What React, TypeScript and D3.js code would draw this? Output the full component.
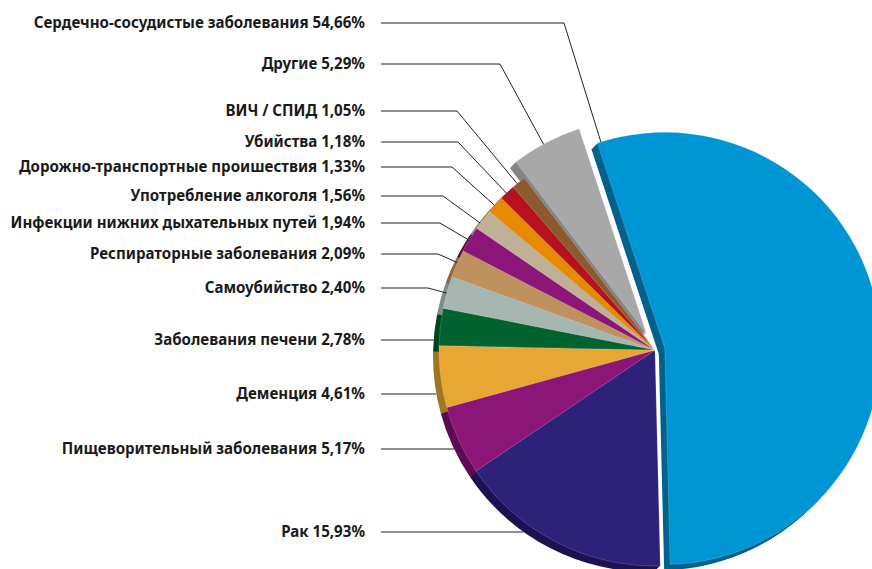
import { useEffect, useRef } from 'react'
import * as d3 from 'd3'

// Causes of death, share of total (%)
const categories = [
  'Сердечно-сосудистые заболевания',
  'Рак',
  'Пищеворительный заболевания',
  'Деменция',
  'Заболевания печени',
  'Самоубийство',
  'Респираторные заболевания',
  'Инфекции нижних дыхательных путей',
  'Употребление алкоголя',
  'Дорожно-транспортные проишествия',
  'Убийства',
  'ВИЧ / СПИД',
  'Другие',
]
const shares = [54.66, 15.93, 5.17, 4.61, 2.78, 2.4, 2.09, 1.94, 1.56, 1.33, 1.18, 1.05, 5.29]

const colors = [
  '#0096d6', '#2d2179', '#8b1677', '#e8a632', '#006330', '#a5b7b0',
  '#bf915e', '#8b1677', '#c0b196', '#e68a00', '#b5121b', '#8b5a2f', '#a8a8a8',
]
const sideColors = [
  '#00628c', '#1d1252', '#5e0a52', '#a07820', '#00461f', '#7d8c86',
  '#8f6a42', '#5e0a52', '#8f8470', '#a86400', '#7e0c12', '#613e20', '#858585',
]
// pull-out distance of the slices
const explode = [10, 0, 0, 0, 0, 0, 0, 0, 0, 0, 0, 0, 18]

// label layout, per slice: y of the label row, x of the elbow in the leader line
const labelY = [23, 532, 449, 394, 340, 288, 254, 223, 196, 167, 142, 111, 64]
const elbowX = [564, null, null, null, null, 428, 438, 440, 443, 452, 458, 457, 500]

export default function App() {
  const svgRef = useRef<SVGSVGElement>(null)

  useEffect(() => {
    if (!svgRef.current) return
    const svg = d3.select(svgRef.current)
    svg.selectAll('*').remove()

    const cx = 655
    const cy = 350
    const r = 216
    const depth = 6
    const start = (341.8 * Math.PI) / 180

    const pie = d3.pie<number>()
      .sort(null)
      .value(d => d)
      .startAngle(start)
      .endAngle(start + 2 * Math.PI)
    const arcs = pie(shares)
    const arc = d3.arc<d3.PieArcDatum<number>>().innerRadius(0).outerRadius(r)

    const offset = (a: d3.PieArcDatum<number>, i: number) => {
      const m = (a.startAngle + a.endAngle) / 2
      return [Math.sin(m) * explode[i], -Math.cos(m) * explode[i]]
    }

    const g = svg.append('g').attr('transform', `translate(${cx},${cy})`)

    // side faces (extruded copies)
    arcs.forEach((a, i) => {
      const [ox, oy] = offset(a, i)
      for (let k = depth; k >= 1; k--) {
        g.append('path')
          .attr('d', arc(a))
          .attr('transform', `translate(${ox - k},${oy + k})`)
          .attr('fill', sideColors[i])
      }
    })

    // top faces
    arcs.forEach((a, i) => {
      const [ox, oy] = offset(a, i)
      g.append('path')
        .attr('d', arc(a))
        .attr('transform', `translate(${ox},${oy})`)
        .attr('fill', colors[i])
        .attr('stroke', 'rgba(255,255,255,0.3)')
        .attr('stroke-width', 0.6)
    })

    // leader lines and labels
    const lineStart = 381
    arcs.forEach((a, i) => {
      const y = labelY[i]
      const ex = elbowX[i]
      let pts: [number, number][]
      if (ex != null) {
        const [ox, oy] = offset(a, i)
        const sx = cx + ox
        const sy = cy + oy
        const ang = Math.atan2(y - sy, ex - sx)
        pts = [[lineStart, y], [ex, y], [sx + r * Math.cos(ang), sy + r * Math.sin(ang)]]
      } else {
        const dy = y - (cy + depth)
        const x = cx - depth - Math.sqrt(r * r - dy * dy)
        pts = [[lineStart, y], [x, y]]
      }
      svg.append('path')
        .attr('d', d3.line()(pts))
        .attr('fill', 'none')
        .attr('stroke', '#222')
        .attr('stroke-width', 1)

      svg.append('text')
        .attr('x', 365)
        .attr('y', y)
        .attr('dy', '0.36em')
        .attr('text-anchor', 'end')
        .style('font-family', '"Noto Sans", sans-serif')
        .style('font-weight', 700)
        .style('font-size', '15.1px')
        .style('fill', '#1a1a1a')
        .text(`${categories[i]} ${shares[i].toFixed(2).replace('.', ',')}%`)
    })
  }, [])

  return (
    <svg
      ref={svgRef}
      width={872}
      height={569}
      style={{ position: 'absolute', left: 0, top: 0, background: '#fff' }}
    />
  )
}
